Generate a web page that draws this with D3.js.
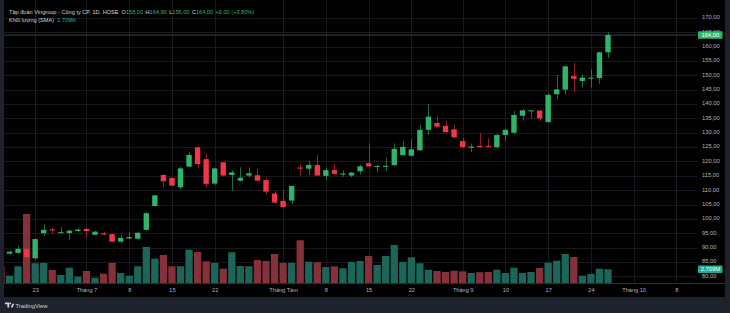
<!DOCTYPE html>
<html>
<head>
<meta charset="utf-8">
<script src="https://cdn.jsdelivr.net/npm/d3@7"></script>
<style>
  html, body { margin: 0; padding: 0; background: #1e222d; }
  svg { display: block; }
</style>
</head>
<body>
<script>
// trading days (2025), first one is mostly hidden behind the left edge
const dates = [
  "06-17","06-18","06-19","06-20","06-23","06-24","06-25","06-26","06-27","06-30",
  "07-01","07-02","07-03","07-04","07-07","07-08","07-09","07-10","07-11","07-14",
  "07-15","07-16","07-17","07-18","07-21","07-22","07-23","07-24","07-25","07-28",
  "07-29","07-30","07-31",
  "08-01","08-04","08-05","08-06","08-07","08-08","08-11","08-12","08-13","08-14",
  "08-15","08-18","08-19","08-20","08-21","08-22","08-25","08-26","08-27","08-28","08-29",
  "09-03","09-04","09-05","09-08","09-09","09-10","09-11","09-12","09-15","09-16",
  "09-17","09-18","09-19","09-22","09-23","09-24","09-25","09-26"
];
// empty days on the right of the last bar
const futureDates = ["09-29","09-30","10-01","10-02","10-03","10-06","10-07","10-08","10-09","10-10"];

const open = [88.0,87.9,88.2,89.6,86.3,95.0,96.4,95.2,95.1,95.8,96.5,94.5,95.0,94.7,92.1,93.2,93.1,96.2,104.5,115.3,
  114.3,111.0,118.2,124.9,120.8,112.3,119.7,115.3,113.3,115.1,115.2,113.5,108.8,106.3,106.4,117.9,117.5,118.8,115.0,117.0,
  115.5,115.1,116.6,119.4,118.2,118.3,118.7,122.2,122.0,123.9,131.0,133.4,132.4,131.2,127.1,124.8,125.4,125.4,125.0,129.2,
  130.0,135.9,137.6,137.7,133.7,143.4,145.0,149.7,148.0,149.0,149.0,158.0];
const high = [88.6,89.2,90.7,89.7,93.1,98.2,97.0,97.2,96.2,96.7,97.0,95.7,95.5,94.8,94.4,95.4,95.4,102.2,108.4,115.5,
  114.4,118.2,123.4,125.1,122.6,117.8,119.8,117.0,118.0,118.0,117.5,114.3,109.7,110.1,111.6,119.1,120.2,122.2,117.8,119.1,
  116.9,116.4,118.8,126.3,118.8,121.3,126.3,127.1,127.7,132.7,140.0,135.8,134.1,132.7,128.3,126.2,129.9,128.1,129.8,131.3,
  137.6,138.4,137.9,137.8,143.9,150.1,153.3,154.3,150.1,152.1,158.2,164.9];
const low = [87.4,87.5,87.9,86.6,85.7,94.1,94.9,95.0,92.7,95.5,93.8,94.4,94.3,91.9,91.4,93.0,92.9,96.0,104.3,111.2,
  111.4,110.4,118.0,117.6,111.0,111.9,114.9,109.8,113.0,114.4,113.2,108.4,105.2,104.0,105.2,115.0,115.3,115.0,113.6,115.4,
  114.7,114.5,115.4,118.2,116.2,116.8,118.5,122.0,121.8,123.7,129.2,131.9,130.0,128.2,124.8,123.2,124.9,125.0,124.4,127.2,
  129.5,134.2,135.0,134.1,133.6,141.7,143.2,144.1,145.7,145.7,147.1,156.0];
const close = [87.6,88.6,89.6,86.7,93.0,96.2,96.0,95.4,95.9,96.3,95.8,95.6,94.6,92.1,93.4,93.7,95.2,102.0,108.2,113.1,
  111.6,117.6,122.3,119.1,112.2,117.6,115.1,116.2,114.3,115.9,113.3,109.5,105.7,104.1,111.5,117.5,118.8,115.1,117.0,115.7,
  115.8,116.1,118.3,118.3,118.4,118.5,124.4,125.1,124.2,131.0,135.6,132.1,130.2,128.4,125.0,125.2,125.0,125.1,129.2,131.0,
  136.2,137.8,137.8,135.0,143.2,145.1,153.1,148.8,149.2,149.2,158.0,164.0];
// volume, millions of shares
const volume = [3.36,1.45,3.30,13.64,3.90,3.96,2.57,1.58,3.03,1.25,2.37,1.05,1.84,3.96,1.98,1.45,3.30,7.12,4.81,5.54,
  3.30,3.30,6.59,6.13,4.29,3.96,2.83,6.07,3.36,3.30,4.55,4.35,5.74,3.96,3.96,8.45,4.21,4.10,3.17,3.30,
  2.91,4.16,4.35,5.34,3.56,5.34,7.52,4.16,5.08,3.90,2.63,2.37,2.18,2.43,2.31,1.98,2.12,2.18,2.63,1.98,
  3.03,1.98,2.18,2.97,4.02,4.41,5.74,5.14,1.45,1.78,2.83,2.709];

// time axis ticks
const tickDates = ["06-23","07-01","07-08","07-15","07-22","08-01","08-08","08-15","08-22","09-03","09-10","09-17","09-24","10-01","10-08"];
const tickLabels = ["23","Tháng 7","8","15","22","Tháng Tám","8","15","22","Tháng 9","10","17","24","Tháng 10","8"];
// price axis ticks
const priceTicks = [80,85,90,95,100,105,110,115,120,125,130,135,140,145,150,155,160,165,170];

const W = 730, H = 313;
const panel = { left: 4, right: 725, top: 0, bottom: 297 };
const plot = { left: 4, right: 697, bottom: 283 };
const upColor = "#2fb46c", downColor = "#f23645";
const upVol = "#1b6659", downVol = "#85303a";
const font = "'Liberation Sans', Arial, sans-serif";

const vn = d3.formatLocale({ decimal: ",", thousands: ".", grouping: [3], currency: ["", ""] });
const fmt = vn.format(".2f");

let svg = d3.select("body").append("svg")
  .attr("width", W)
  .attr("height", H)
  .style("font-family", font);

svg.append("rect").attr("width", W).attr("height", H).attr("fill", "#1e222d");
svg.append("rect")
  .attr("x", panel.left).attr("y", panel.top)
  .attr("width", panel.right - panel.left).attr("height", panel.bottom - panel.top)
  .attr("fill", "#000000");

// scales: x by bar index, so gaps (weekends, holidays) disappear
let allDates = dates.concat(futureDates);
let xScale = d3.scaleLinear()
  .domain([0, 79])
  .range([0.95, 676.4]);
let step = xScale(1) - xScale(0);
let yScale = d3.scaleLinear()
  .domain([80, 170])
  .range([276.4, 17.8]);
let vScale = d3.scaleLinear()
  .domain([0, 14])
  .range([plot.bottom, plot.bottom - 14 * 5.06]);

// grid
let grid = svg.append("g");
grid.selectAll("line.h").data(priceTicks).join("line")
  .attr("x1", plot.left).attr("x2", plot.right)
  .attr("y1", d => Math.round(yScale(d)) + 0.5)
  .attr("y2", d => Math.round(yScale(d)) + 0.5)
  .attr("stroke", "#17191e").attr("stroke-width", 1);
grid.selectAll("line.v").data(tickDates).join("line")
  .attr("x1", d => Math.round(xScale(allDates.indexOf(d))) + 0.5)
  .attr("x2", d => Math.round(xScale(allDates.indexOf(d))) + 0.5)
  .attr("y1", 0).attr("y2", plot.bottom)
  .attr("stroke", "#17191e").attr("stroke-width", 1);

svg.append("clipPath").attr("id", "plotclip")
  .append("rect")
  .attr("x", plot.left).attr("y", 0)
  .attr("width", plot.right - plot.left).attr("height", plot.bottom);

let bars = dates.map((d, i) => ({
  date: d, i: i, o: open[i], h: high[i], l: low[i], c: close[i], v: volume[i]
}));

let chart = svg.append("g").attr("clip-path", "url(#plotclip)");

// volume bars
let volW = step * 0.85;
chart.append("g").selectAll("rect").data(bars).join("rect")
  .attr("x", d => xScale(d.i) - volW / 2)
  .attr("width", volW)
  .attr("y", d => vScale(d.v))
  .attr("height", d => plot.bottom - vScale(d.v))
  .attr("fill", d => d.c >= d.o ? upVol : downVol);

// last price line
chart.append("line")
  .attr("x1", plot.left).attr("x2", plot.right)
  .attr("y1", yScale(close[close.length - 1]))
  .attr("y2", yScale(close[close.length - 1]))
  .attr("stroke", "#34443c").attr("stroke-width", 1);

// candles
let bodyW = step * 0.63;
let candles = chart.append("g").selectAll("g").data(bars).join("g");
candles.append("line")
  .attr("x1", d => Math.round(xScale(d.i)) + 0.5)
  .attr("x2", d => Math.round(xScale(d.i)) + 0.5)
  .attr("y1", d => yScale(d.h))
  .attr("y2", d => yScale(d.l))
  .attr("stroke", d => d.c >= d.o ? upColor : downColor)
  .attr("stroke-opacity", 0.6)
  .attr("stroke-width", 1);
candles.append("rect")
  .attr("x", d => xScale(d.i) - bodyW / 2)
  .attr("width", bodyW)
  .attr("y", d => yScale(Math.max(d.o, d.c)))
  .attr("height", d => Math.max(1, Math.abs(yScale(d.o) - yScale(d.c))))
  .attr("fill", d => d.c >= d.o ? upColor : downColor);

// time axis separator
svg.append("line")
  .attr("x1", panel.left).attr("x2", panel.right)
  .attr("y1", plot.bottom + 0.5).attr("y2", plot.bottom + 0.5)
  .attr("stroke", "#2a2e39");

// price axis
let yAxis = d3.axisRight(yScale).tickValues(priceTicks).tickSize(0).tickPadding(5).tickFormat(fmt);
let yAxisG = svg.append("g")
  .attr("transform", `translate(${plot.right}, 0)`)
  .call(yAxis);
yAxisG.select(".domain").remove();
yAxisG.selectAll("text")
  .attr("fill", "#b2b5be")
  .attr("font-size", 5.8)
  .attr("font-family", font)
  .attr("dy", "0.15em");

// time axis
let xAxis = d3.axisBottom(xScale)
  .tickValues(tickDates.map(d => allDates.indexOf(d)))
  .tickFormat((d, i) => tickLabels[i])
  .tickSize(0).tickPadding(5);
let xAxisG = svg.append("g")
  .attr("transform", `translate(0, ${plot.bottom})`)
  .call(xAxis);
xAxisG.select(".domain").remove();
xAxisG.selectAll("text")
  .attr("fill", "#b2b5be")
  .attr("font-size", 5.6)
  .attr("font-family", font);

// last value labels on the price axis
let lastClose = close[close.length - 1];
let lastVol = volume[volume.length - 1];
let labels = [
  { y: yScale(lastClose), text: fmt(lastClose), fill: "#2fb46c" },
  { y: vScale(lastVol), text: vn.format(".3f")(lastVol) + "M", fill: "#22ab94" }
];
let lab = svg.append("g").selectAll("g").data(labels).join("g");
lab.append("rect")
  .attr("x", 698).attr("width", 24.5)
  .attr("y", d => d.y - 3.8).attr("height", 7.6)
  .attr("rx", 0.8)
  .attr("fill", d => d.fill);
lab.append("text")
  .attr("x", 710.3).attr("y", d => d.y + 2)
  .attr("text-anchor", "middle")
  .attr("font-size", 5.8)
  .attr("fill", "#ffffff")
  .text(d => d.text);

// legend at top left
let last = bars[bars.length - 1];
let prev = bars[bars.length - 2];
let chg = last.c - prev.c;
let legend = svg.append("text")
  .attr("x", 9).attr("y", 14)
  .attr("font-size", 5.6);
legend.append("tspan").attr("fill", "#d1d4dc").text("Tập đoàn Vingroup - Công ty CP, 1D, HOSE");
[["O", last.o], ["H", last.h], ["L", last.l], ["C", last.c]].forEach(([k, v], j) => {
  legend.append("tspan").attr("fill", "#d1d4dc").attr("dx", j == 0 ? 3 : 2.5).text(k);
  legend.append("tspan").attr("fill", upColor).text(fmt(v));
});
legend.append("tspan").attr("fill", upColor).attr("dx", 2.5)
  .text(`+${fmt(chg)} (+${fmt(chg / prev.c * 100)}%)`);

let legend2 = svg.append("text")
  .attr("x", 9).attr("y", 21.5)
  .attr("font-size", 5.6);
legend2.append("tspan").attr("fill", "#d1d4dc").text("Khối lượng (SMA)");
legend2.append("tspan").attr("fill", "#22ab94").attr("dx", 3).text(vn.format(".3f")(lastVol) + "M");

// TradingView mark at the bottom
let logo = svg.append("g").attr("fill", "#d1d4dc");
logo.append("path").attr("d", "M5,302.5 h4.2 v5 h-1.8 v-3.2 h-2.4 z");
logo.append("circle").attr("cx", 10.3).attr("cy", 303.4).attr("r", 0.9);
logo.append("path").attr("d", "M10.8,307.5 l1.6,-3.8 h1.8 l-1.6,3.8 z");
svg.append("text")
  .attr("x", 15.5).attr("y", 307.6)
  .attr("font-size", 5.8)
  .attr("fill", "#d1d4dc")
  .text("TradingView");
</script>
</body>
</html>
